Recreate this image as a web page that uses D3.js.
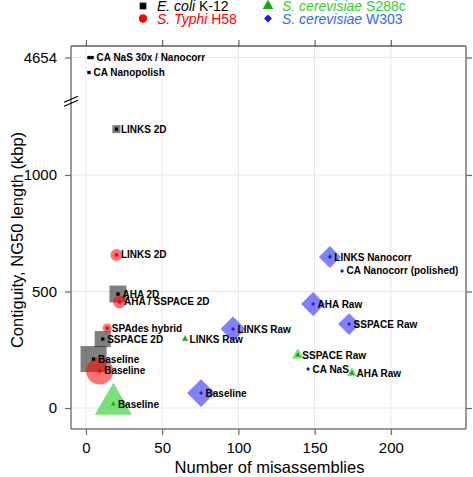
<!DOCTYPE html>
<html><head><meta charset="utf-8">
<script src="https://cdn.jsdelivr.net/npm/d3@7"></script>
<style>body{margin:0;background:#fff;} svg{display:block;font-family:"Liberation Sans",Arial,Helvetica,sans-serif;}</style>
</head><body><svg id="chart" width="473" height="477"></svg>
<script>
// ---- data ----
const speciesNames = ["E. coli K-12", "S. Typhi H58", "S. cerevisiae S288c", "S. cerevisiae W303"];
const pointSpecies = [0,0,0,0,0,0,0, 1,1,1,1, 2,2,2,2,2, 3,3,3,3,3,3,3];
const pointLabels = ["", "CA NaS 30x / Nanocorr", "CA Nanopolish", "LINKS 2D", "AHA 2D", "SSPACE 2D", "Baseline",
  "LINKS 2D", "AHA / SSPACE 2D", "SPAdes hybrid", "Baseline",
  "Baseline", "LINKS Raw", "SSPACE Raw", "AHA Raw", "",
  "Baseline", "LINKS Raw", "LINKS Nanocorr", "CA Nanocorr (polished)", "AHA Raw", "SSPACE Raw", "CA NaS"];
const misassemblies = [2, 4, 2, 20, 21, 11, 5,
  20, 22, 14, 9,
  18, 65, 139, 174.5, 160,
  75.5, 96.5, 160, 168, 149, 172.6, 145.7];
const ng50 = [4654, 4654, 4590, 1197, 489, 296, 210,
  657, 455, 343, 159,
  17, 296, 227, 150, 652,
  64, 339, 648, 588, 446, 360, 167];
const contigs = [1, 1, 1, 11, 48, 43, 113,
  19, 22, 11, 96,
  99, 4, 10, 7, 2,
  65, 52, 40, 1, 48, 40, 1];
const xTicks = [0, 50, 100, 150, 200];
const yTicks = [0, 500, 1000, 4654];

// ---- styles ----
const fillCol = ["#000000", "#ff0000", "#22cc22", "#1a1aff"];
const fillOp = [0.5, 0.55, 0.6, 0.55];
const dotCol = ["#000000", "#ff0000", "#11aa11", "#1a1aff"];
const legendText = ["#000000", "#ff0000", "#33cc33", "#3366ff"];
const shapes = [d3.symbolSquare, d3.symbolCircle, d3.symbolTriangle, d3.symbolSquare];
const rot = [0, 0, 0, 45];

const svg = d3.select("#chart");
const L = 71, R = 466, T = 46, B = 429;

const x = d3.scaleLinear().domain([-9.8, 249.3]).range([L, R]);
// broken y axis: linear up to 1400, then jump to 4550
const ylin = d3.scaleLinear().domain([-90.1, 1553.6]).range([B, T]);
const y = d3.scaleLinear()
  .domain([-90.1, 1400, 4550, 4703.6])
  .range([B, ylin(1400), ylin(1400), T]);

// grid
const grid = svg.append("g").attr("stroke", "#e6e6e6").attr("stroke-width", 1);
xTicks.forEach(t => grid.append("line").attr("x1", x(t)).attr("x2", x(t)).attr("y1", T).attr("y2", B));
yTicks.forEach(t => grid.append("line").attr("x1", L).attr("x2", R).attr("y1", y(t)).attr("y2", y(t)));

// axes
const fmt = d3.format("d");
const ax = svg.append("g").attr("transform", `translate(0,${B})`)
  .call(d3.axisBottom(x).tickValues(xTicks).tickSize(6).tickPadding(7).tickFormat(fmt));
const ay = svg.append("g").attr("transform", `translate(${L},0)`)
  .call(d3.axisLeft(y).tickValues(yTicks).tickSize(6).tickPadding(8).tickFormat(fmt));
const at = svg.append("g").attr("transform", `translate(0,${T})`)
  .call(d3.axisTop(x).tickValues(xTicks).tickSize(6).tickFormat(""));
const ar = svg.append("g").attr("transform", `translate(${R},0)`)
  .call(d3.axisRight(y).tickValues(yTicks).tickSize(6).tickFormat(""));
[ax, ay, at, ar].forEach(g => {
  g.select(".domain").remove();
  g.selectAll(".tick line").attr("stroke", "#666").attr("stroke-width", 1.2);
  g.selectAll(".tick text").attr("font-size", 15).attr("fill", "#000")
    .attr("font-family", "Liberation Sans, Arial, sans-serif");
});
// frame
svg.append("line").attr("x1", L).attr("x2", R).attr("y1", T).attr("y2", T).attr("stroke", "#111").attr("stroke-width", 1.2);
svg.append("line").attr("x1", L).attr("x2", R).attr("y1", B).attr("y2", B).attr("stroke", "#777").attr("stroke-width", 1.5);
svg.append("line").attr("x1", L).attr("x2", L).attr("y1", T).attr("y2", B).attr("stroke", "#777").attr("stroke-width", 1.5);
svg.append("line").attr("x1", R).attr("x2", R).attr("y1", T).attr("y2", B).attr("stroke", "#777").attr("stroke-width", 1.5);

// axis break marks
const yb = y(1325);
[0, 4].forEach(o => svg.append("line")
  .attr("x1", L - 7).attr("y1", yb + o + 3).attr("x2", L + 7).attr("y2", yb + o - 3)
  .attr("stroke", "#000").attr("stroke-width", 1.2));

// axis titles
svg.append("text").attr("x", (L + R) / 2 + 1).attr("y", 473).attr("text-anchor", "middle")
  .attr("font-size", 16.5).text("Number of misassemblies");
svg.append("text").attr("transform", `translate(23,240) rotate(-90)`)
  .attr("text-anchor", "middle").attr("font-size", 16.5).text("Contiguity, NG50 length (kbp)");

// points
const idx = d3.range(pointLabels.length);
const areaOf = c => c * 6;
const big = svg.append("g");
idx.forEach(i => {
  const s = pointSpecies[i];
  big.append("path")
    .attr("d", d3.symbol().type(shapes[s]).size(areaOf(contigs[i]))())
    .attr("transform", `translate(${x(misassemblies[i])},${y(ng50[i])}) rotate(${rot[s]})`)
    .attr("fill", fillCol[s]).attr("fill-opacity", fillOp[s]);
});
const small = svg.append("g");
idx.forEach(i => {
  const s = pointSpecies[i];
  small.append("path")
    .attr("d", d3.symbol().type(shapes[s]).size(s === 3 ? 8 : 11)())
    .attr("transform", `translate(${x(misassemblies[i])},${y(ng50[i])}) rotate(${rot[s]})`)
    .attr("fill", dotCol[s]);
});
const lab = svg.append("g").attr("font-size", 10).attr("font-weight", "bold").attr("fill", "#000");
idx.filter(i => pointLabels[i]).forEach(i => {
  lab.append("text").attr("x", x(misassemblies[i]) + 4.5).attr("y", y(ng50[i]))
    .attr("dy", "0.35em").text(pointLabels[i]);
});

// legend
const legPos = [[143, 6], [143, 18.5], [268, 6], [268, 18.5]];
const legParts = [["E. coli", " K-12"], ["S. Typhi", " H58"], ["S. cerevisiae", " S288c"], ["S. cerevisiae", " W303"]];
const legSize = [45, 55, 50, 32];
speciesNames.forEach((n, s) => {
  const [lx, ly] = legPos[s];
  svg.append("path").attr("d", d3.symbol().type(shapes[s]).size(legSize[s])())
    .attr("transform", `translate(${lx},${ly}) rotate(${rot[s]})`).attr("fill", dotCol[s]);
  const t = svg.append("text").attr("x", lx + 14).attr("y", ly + 5).attr("font-size", 14).attr("fill", legendText[s]);
  t.append("tspan").attr("font-style", "italic").text(legParts[s][0]);
  t.append("tspan").text(legParts[s][1]);
});
</script></body></html>
